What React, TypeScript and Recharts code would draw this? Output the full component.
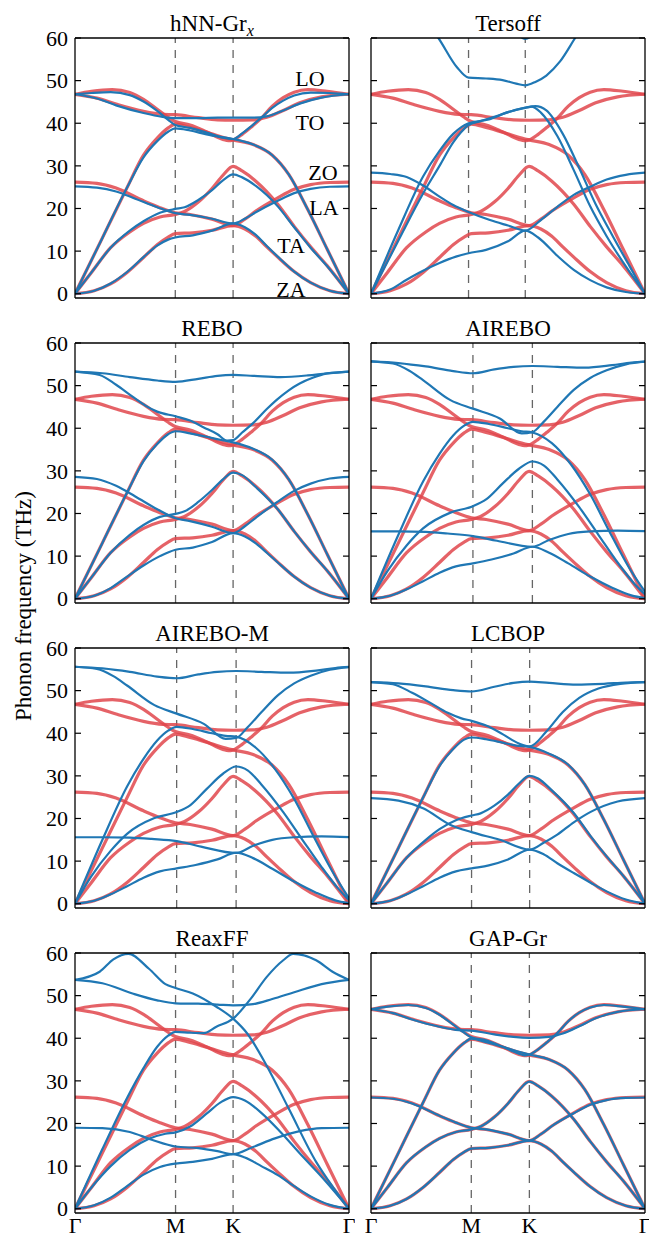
import React from 'react';
import { LineChart, Line, XAxis, YAxis, ReferenceLine } from 'recharts';

const RED = '#e0474c';
const BLUE = '#1f77b4';
const FONT = "'Liberation Serif', 'Times New Roman', Times, serif";

// path coordinate: 0 = Γ, 1 = Γ (red reference has M = 0.366, K = 0.577)
// bands are [x, frequency THz] pairs

// reference (red) bands
const refZA = [[0,0],[0.07,0.7],[0.13,2.3],[0.19,5.0],[0.25,8.5],[0.30,11.5],[0.34,13.3],[0.366,14.1],[0.43,14.3],[0.5,14.9],[0.577,16.0],[0.62,15.2],[0.66,13.5],[0.70,11.0],[0.74,8.6],[0.80,5.2],[0.86,2.6],[0.93,0.7],[1,0]];
const refTA = [[0,0],[0.06,5],[0.13,10.8],[0.2,14.5],[0.25,16.5],[0.31,18.0],[0.366,18.6],[0.40,19.3],[0.45,21.5],[0.5,24.7],[0.54,27.8],[0.577,29.9],[0.61,28.8],[0.66,26.4],[0.74,21.0],[0.80,15.8],[0.86,11.0],[0.92,6.6],[1,0]];
const refZO = [[0,26.2],[0.08,25.9],[0.15,24.8],[0.25,21.8],[0.31,20.2],[0.366,19.0],[0.42,18.6],[0.5,17.5],[0.577,16.0],[0.62,17.5],[0.66,19.4],[0.74,22.5],[0.80,24.5],[0.86,25.6],[0.93,26.1],[1,26.2]];
const refLA = [[0,0],[0.1,13.1],[0.19,24.9],[0.25,32.5],[0.3,36.5],[0.34,38.9],[0.366,39.8],[0.42,39.0],[0.48,37.9],[0.53,36.9],[0.577,36.1],[0.65,35.0],[0.72,32.5],[0.78,28.0],[0.85,19.7],[0.92,10.5],[1,0]];
const refLO = [[0,46.8],[0.06,47.5],[0.136,47.9],[0.2,47.2],[0.25,45.6],[0.3,43.3],[0.34,41.4],[0.366,40.4],[0.42,39.6],[0.48,38.0],[0.54,36.2],[0.56,35.9],[0.577,36.1],[0.61,37.4],[0.645,39.2],[0.68,41.2],[0.72,44.0],[0.76,46.0],[0.80,47.3],[0.85,47.9],[0.92,47.5],[1,46.8]];
const refTO = [[0,46.8],[0.08,45.9],[0.15,44.5],[0.25,42.8],[0.32,42.1],[0.366,42.0],[0.45,41.3],[0.52,40.8],[0.577,40.7],[0.65,40.8],[0.70,41.4],[0.76,43.0],[0.82,44.8],[0.9,46.2],[1,46.8]];
const refBands = [refZA, refTA, refZO, refLA, refLO, refTO];

// potentials (blue)
const hnnBands = [
  [[0,0],[0.07,0.7],[0.13,2.4],[0.19,5.1],[0.25,8.6],[0.30,11.3],[0.34,12.7],[0.366,13.2],[0.43,13.7],[0.5,14.8],[0.577,16.5],[0.62,15.6],[0.66,13.8],[0.70,11.2],[0.74,8.7],[0.80,5.2],[0.86,2.6],[0.93,0.7],[1,0]],
  [[0,0],[0.06,5],[0.13,10.8],[0.2,14.8],[0.25,17.0],[0.31,19.0],[0.366,19.9],[0.40,20.3],[0.45,22.0],[0.5,24.3],[0.54,26.6],[0.577,28.0],[0.61,27.3],[0.66,25.3],[0.74,20.5],[0.80,15.6],[0.86,10.8],[0.92,6.5],[1,0]],
  [[0,25.2],[0.08,24.9],[0.15,24.0],[0.22,22.3],[0.3,20.3],[0.366,18.9],[0.42,18.5],[0.5,17.6],[0.577,16.5],[0.62,17.6],[0.66,19.1],[0.74,21.8],[0.80,23.6],[0.86,24.6],[0.93,25.1],[1,25.2]],
  [[0,0],[0.1,13.1],[0.19,24.9],[0.25,32.0],[0.3,35.8],[0.34,38.0],[0.366,38.8],[0.42,38.3],[0.48,37.4],[0.53,36.8],[0.577,36.3],[0.65,35.0],[0.72,32.5],[0.78,28],[0.85,19.7],[0.92,10.5],[1,0]],
  [[0,46.8],[0.06,47.1],[0.13,47.3],[0.2,46.6],[0.25,45.1],[0.3,42.9],[0.34,40.8],[0.366,39.6],[0.42,38.9],[0.48,37.8],[0.54,36.6],[0.577,36.3],[0.61,37.6],[0.645,39.4],[0.68,41.3],[0.72,43.6],[0.76,45.3],[0.80,46.5],[0.86,47.2],[0.93,47.1],[1,46.8]],
  [[0,46.8],[0.08,45.8],[0.15,44.2],[0.25,42.4],[0.32,41.5],[0.366,41.2],[0.45,41.2],[0.52,41.3],[0.577,41.3],[0.65,41.3],[0.70,41.6],[0.76,43.0],[0.82,44.6],[0.9,46.0],[1,46.8]],
];

const tersoffBands = [
  [[0,0],[0.07,1.0],[0.13,3.3],[0.19,5.4],[0.25,7.2],[0.31,8.7],[0.356,9.5],[0.42,10.3],[0.5,12.3],[0.563,14.8],[0.61,13.2],[0.68,8.9],[0.74,5.6],[0.80,3.2],[0.86,1.5],[0.93,0.4],[1,0]],
  [[0,0],[0.1,12.5],[0.19,23.5],[0.25,30],[0.30,35.5],[0.33,38.0],[0.356,39.6],[0.40,40.5],[0.45,41.5],[0.52,43.0],[0.563,43.7],[0.585,43.9],[0.62,42.5],[0.68,37.0],[0.74,29.0],[0.80,20.5],[0.86,13.5],[0.93,6.4],[1,0]],
  [[0,28.4],[0.07,28.1],[0.13,27.4],[0.19,25.4],[0.25,22.8],[0.30,20.8],[0.356,19.2],[0.434,17.3],[0.5,16.0],[0.563,14.8],[0.62,17.3],[0.68,20.4],[0.74,23.2],[0.80,25.1],[0.86,26.8],[0.93,27.9],[1,28.4]],
  [[0,0],[0.1,15],[0.19,27.5],[0.25,33.5],[0.30,37.5],[0.356,40.0],[0.43,40.9],[0.5,42.6],[0.563,43.6],[0.6,44.0],[0.64,43.0],[0.70,37.5],[0.76,29.5],[0.82,21.0],[0.88,13.8],[0.94,6.9],[1,0]],
  [[0,76],[0.1,73],[0.2,64],[0.246,60],[0.313,53.2],[0.356,50.7],[0.42,50.5],[0.48,50.1],[0.53,49.3],[0.563,48.9],[0.60,49.7],[0.64,51.2],[0.69,54.5],[0.745,60],[0.8,65.5],[0.9,73],[1,76]],
  [[0,78],[0.356,68],[0.50,63],[0.563,59.8],[0.63,63],[0.8,71],[1,78]],
];

const reboBands = [
  [[0,0],[0.07,0.7],[0.13,2.5],[0.19,5.2],[0.25,7.8],[0.31,10.0],[0.367,11.5],[0.43,12.0],[0.5,13.3],[0.577,15.4],[0.62,14.6],[0.66,13.0],[0.70,10.8],[0.74,8.5],[0.80,5.2],[0.86,2.6],[0.93,0.7],[1,0]],
  [[0,0],[0.06,5],[0.13,10.8],[0.2,15],[0.25,17.3],[0.31,19.2],[0.367,19.9],[0.40,20.5],[0.45,22.7],[0.5,25.5],[0.54,28.0],[0.577,29.6],[0.61,29.0],[0.66,26.2],[0.74,21.0],[0.80,15.8],[0.86,11.0],[0.92,6.6],[1,0]],
  [[0,28.6],[0.08,28.1],[0.15,26.5],[0.22,24.0],[0.3,21.0],[0.367,18.9],[0.42,18.2],[0.5,16.9],[0.577,15.4],[0.62,17.0],[0.66,19.0],[0.74,22.8],[0.80,25.3],[0.86,27.0],[0.93,28.2],[1,28.6]],
  [[0,0],[0.1,13.1],[0.19,24.9],[0.25,32.3],[0.3,36.3],[0.34,38.6],[0.367,39.3],[0.42,38.8],[0.48,38.0],[0.53,37.3],[0.577,36.7],[0.65,35.2],[0.72,32.6],[0.78,28],[0.85,19.7],[0.92,10.5],[1,0]],
  [[0,53.3],[0.09,52.5],[0.15,50.2],[0.21,47.4],[0.26,45.2],[0.30,43.9],[0.367,42.8],[0.42,41.8],[0.47,40.2],[0.52,38.6],[0.555,37.1],[0.577,37.2],[0.61,39.0],[0.65,41.2],[0.70,44.5],[0.735,46.6],[0.78,48.9],[0.82,50.5],[0.87,51.9],[0.917,52.8],[1,53.3]],
  [[0,53.3],[0.1,52.9],[0.2,52.0],[0.3,51.2],[0.367,50.9],[0.45,51.6],[0.52,52.3],[0.577,52.5],[0.65,52.3],[0.75,52.0],[0.85,52.4],[0.92,52.9],[1,53.3]],
];

const aireboBands = [
  [[0,0],[0.07,0.7],[0.13,2.2],[0.19,4.1],[0.25,6.1],[0.31,7.6],[0.372,8.3],[0.44,9.2],[0.52,10.6],[0.589,12.2],[0.65,10.8],[0.72,8.3],[0.80,5.2],[0.88,2.6],[0.95,0.8],[1.018,0]],
  [[0,0],[0.06,6.5],[0.13,12.5],[0.19,16.5],[0.29,20.2],[0.372,21.7],[0.42,23.3],[0.48,27.0],[0.54,30.5],[0.589,32.2],[0.63,31.3],[0.68,28.0],[0.76,21.5],[0.83,15],[0.90,8.5],[0.96,3.6],[1.018,0]],
  [[0,15.8],[0.1,15.8],[0.2,15.7],[0.28,15.3],[0.372,14.7],[0.46,13.6],[0.589,12.2],[0.65,13.8],[0.72,15.2],[0.80,15.8],[0.9,16.0],[1.018,15.8]],
  [[0,0],[0.1,15],[0.19,27.5],[0.25,34],[0.3,38.3],[0.34,40.6],[0.372,41.5],[0.43,41.0],[0.5,40.0],[0.55,39.3],[0.589,39.0],[0.66,36.5],[0.73,31.5],[0.80,24.5],[0.87,15.8],[0.94,7.5],[1.018,0]],
  [[0,55.7],[0.08,55.2],[0.14,53.5],[0.19,51.3],[0.29,46.6],[0.372,44.6],[0.47,42.3],[0.55,38.8],[0.589,39.1],[0.63,41.5],[0.68,45.0],[0.74,49.0],[0.80,51.8],[0.86,53.6],[0.93,55.0],[1.018,55.7]],
  [[0,55.7],[0.1,55.3],[0.2,54.5],[0.3,53.4],[0.372,52.9],[0.45,53.8],[0.52,54.4],[0.589,54.6],[0.68,54.4],[0.78,54.2],[0.88,54.8],[0.95,55.4],[1.018,55.7]],
];

const airebomBands = [
  [[0,0],[0.07,0.7],[0.13,2.2],[0.19,4.1],[0.25,6.1],[0.31,7.6],[0.371,8.3],[0.44,9.1],[0.52,10.4],[0.588,12.0],[0.65,10.7],[0.72,8.2],[0.80,5.2],[0.88,2.6],[0.95,0.8],[1.013,0]],
  [[0,0],[0.06,6.5],[0.13,12.4],[0.19,16.4],[0.29,20.1],[0.371,21.5],[0.42,23.1],[0.48,26.9],[0.54,30.5],[0.588,32.2],[0.63,31.3],[0.68,28.0],[0.76,21.5],[0.83,15],[0.90,8.6],[0.96,3.6],[1.013,0]],
  [[0,15.6],[0.1,15.6],[0.2,15.5],[0.28,15.2],[0.371,14.7],[0.46,13.4],[0.588,11.9],[0.65,13.6],[0.72,15.0],[0.80,15.6],[0.9,15.8],[1.013,15.6]],
  [[0,0],[0.1,15],[0.19,27.5],[0.25,34],[0.3,38.3],[0.34,40.6],[0.371,41.5],[0.43,41.0],[0.5,40.0],[0.55,39.4],[0.588,39.2],[0.66,36.6],[0.73,31.6],[0.80,24.6],[0.87,15.9],[0.94,7.5],[1.013,0]],
  [[0,55.6],[0.08,55.1],[0.14,53.4],[0.19,51.2],[0.29,46.6],[0.371,44.6],[0.47,42.2],[0.55,38.7],[0.588,38.9],[0.63,41.4],[0.68,44.9],[0.74,48.9],[0.80,51.7],[0.86,53.5],[0.93,54.9],[1.013,55.6]],
  [[0,55.6],[0.1,55.2],[0.2,54.4],[0.3,53.3],[0.371,52.9],[0.45,53.8],[0.52,54.4],[0.588,54.6],[0.68,54.4],[0.78,54.2],[0.88,54.7],[0.95,55.3],[1.013,55.6]],
];

const lcbopBands = [
  [[0,0],[0.07,0.7],[0.13,2.2],[0.19,4.1],[0.25,6.1],[0.31,7.6],[0.367,8.3],[0.43,9.0],[0.5,10.4],[0.579,12.7],[0.63,11.6],[0.68,9.5],[0.74,7.2],[0.80,5.0],[0.86,2.9],[0.93,1.0],[1,0]],
  [[0,0],[0.06,5],[0.13,10.8],[0.2,15],[0.25,17.5],[0.31,19.6],[0.367,20.7],[0.40,21.2],[0.45,23.0],[0.5,25.6],[0.54,28.2],[0.579,30.0],[0.61,29.4],[0.66,26.6],[0.74,21.3],[0.80,16],[0.86,11.1],[0.92,6.6],[1,0]],
  [[0,24.8],[0.1,24.2],[0.19,22.4],[0.29,18.5],[0.367,16.8],[0.47,15.0],[0.579,12.7],[0.63,14.3],[0.68,16.2],[0.74,19.1],[0.80,21.5],[0.90,24.0],[1,24.8]],
  [[0,0],[0.1,13.1],[0.19,24.9],[0.25,32.3],[0.3,36.3],[0.34,38.5],[0.367,39.0],[0.42,38.6],[0.48,37.8],[0.53,37.1],[0.579,36.8],[0.65,35.2],[0.72,32.6],[0.78,28],[0.85,19.7],[0.92,10.5],[1,0]],
  [[0,52.0],[0.08,51.5],[0.15,49.5],[0.22,47.0],[0.28,44.8],[0.33,43.5],[0.367,42.9],[0.42,41.8],[0.48,39.8],[0.54,37.6],[0.579,36.9],[0.64,40.4],[0.70,45.0],[0.76,48.3],[0.83,50.5],[0.91,51.6],[1,52.0]],
  [[0,52.0],[0.1,51.7],[0.2,51.0],[0.3,50.1],[0.367,49.8],[0.45,50.9],[0.52,51.8],[0.579,52.1],[0.65,51.8],[0.75,51.4],[0.85,51.6],[0.93,51.9],[1,52.0]],
];

const reaxffBands = [
  [[0,0],[0.07,0.8],[0.13,2.6],[0.19,5.3],[0.25,8.0],[0.31,9.8],[0.367,10.6],[0.43,11.0],[0.5,11.7],[0.577,12.8],[0.62,12.0],[0.68,10.0],[0.74,7.9],[0.80,5.3],[0.86,2.9],[0.93,0.9],[1,0]],
  [[0,0],[0.06,5],[0.13,10],[0.2,13.8],[0.27,16.4],[0.33,17.6],[0.367,17.9],[0.42,19.3],[0.48,22.3],[0.53,24.9],[0.577,26.2],[0.62,25.4],[0.68,22.5],[0.75,18.0],[0.82,13.0],[0.9,7.5],[1,0]],
  [[0,19.0],[0.1,18.9],[0.2,18.0],[0.28,16.2],[0.367,14.6],[0.45,14.2],[0.52,13.5],[0.577,12.8],[0.65,14.5],[0.73,16.5],[0.82,18.2],[0.9,18.9],[1,19.0]],
  [[0,0],[0.1,14],[0.19,26],[0.25,33],[0.3,38],[0.34,40.6],[0.367,41.5],[0.42,41.3],[0.47,41.2],[0.516,42.7],[0.577,44.6],[0.638,49.0],[0.70,54.4],[0.76,58.3],[0.796,59.8],[0.88,58.3],[0.94,55.6],[1,53.7]],
  [[0,53.7],[0.09,55.6],[0.14,58.5],[0.195,59.8],[0.27,56.3],[0.33,52.7],[0.367,51.8],[0.43,50.5],[0.516,47.4],[0.577,44.6],[0.63,41.0],[0.70,33.5],[0.78,23.5],[0.88,11],[0.94,5.2],[1,0]],
  [[0,53.7],[0.1,52.9],[0.21,50.5],[0.3,48.9],[0.367,48.2],[0.45,48.1],[0.52,47.9],[0.577,47.7],[0.65,48.0],[0.72,49.2],[0.8,50.8],[0.9,52.7],[1,53.7]],
];

const gapBands = [
  [[0,0],[0.07,0.7],[0.13,2.3],[0.19,5.0],[0.25,8.5],[0.30,11.5],[0.34,13.3],[0.366,14.1],[0.43,14.3],[0.5,14.9],[0.578,16.0],[0.62,15.2],[0.66,13.5],[0.70,11.0],[0.74,8.6],[0.80,5.2],[0.86,2.6],[0.93,0.7],[1,0]],
  [[0,0],[0.06,5],[0.13,10.8],[0.2,14.5],[0.25,16.5],[0.31,18.0],[0.366,18.6],[0.40,19.3],[0.45,21.5],[0.5,24.7],[0.54,27.8],[0.578,29.8],[0.61,28.8],[0.66,26.4],[0.74,21.0],[0.80,15.8],[0.86,11.0],[0.92,6.6],[1,0]],
  [[0,26.1],[0.08,25.8],[0.15,24.7],[0.25,21.8],[0.31,20.2],[0.366,19.0],[0.42,18.6],[0.5,17.5],[0.578,16.0],[0.62,17.5],[0.66,19.4],[0.74,22.4],[0.80,24.4],[0.86,25.5],[0.93,26.0],[1,26.1]],
  [[0,0],[0.1,13.1],[0.19,24.9],[0.25,32.5],[0.3,36.5],[0.34,38.9],[0.366,39.9],[0.42,39.1],[0.48,38.0],[0.53,37.0],[0.578,36.2],[0.65,35.0],[0.72,32.5],[0.78,28.0],[0.85,19.7],[0.92,10.5],[1,0]],
  [[0,46.8],[0.06,47.4],[0.136,47.8],[0.2,47.1],[0.25,45.5],[0.3,43.2],[0.34,41.3],[0.366,40.2],[0.42,39.5],[0.48,38.0],[0.54,36.4],[0.56,36.0],[0.578,36.2],[0.61,37.4],[0.645,39.2],[0.68,41.2],[0.72,44.0],[0.76,46.0],[0.80,47.2],[0.85,47.8],[0.92,47.4],[1,46.8]],
  [[0,46.8],[0.08,45.9],[0.15,44.4],[0.25,42.7],[0.32,41.9],[0.366,41.8],[0.45,40.9],[0.52,40.3],[0.578,40.1],[0.65,40.3],[0.70,41.1],[0.76,42.8],[0.82,44.7],[0.9,46.2],[1,46.8]],
];

const Y_TICKS = [0, 10, 20, 30, 40, 50, 60];

// m, k = positions of the M and K points for each potential's own path
const panels = [
  { title: 'hNN-Gr', sub: 'x', bands: hnnBands, m: 0.366, k: 0.577 },
  { title: 'Tersoff', bands: tersoffBands, m: 0.356, k: 0.563 },
  { title: 'REBO', bands: reboBands, m: 0.367, k: 0.577 },
  { title: 'AIREBO', bands: aireboBands, m: 0.372, k: 0.589 },
  { title: 'AIREBO-M', bands: airebomBands, m: 0.371, k: 0.588 },
  { title: 'LCBOP', bands: lcbopBands, m: 0.367, k: 0.579 },
  { title: 'ReaxFF', bands: reaxffBands, m: 0.367, k: 0.577 },
  { title: 'GAP-Gr', bands: gapBands, m: 0.366, k: 0.578 },
];

const bandLabels = [
  { t: 'LO', x: 310, y: 78 },
  { t: 'TO', x: 310, y: 122 },
  { t: 'ZO', x: 323, y: 172 },
  { t: 'LA', x: 324, y: 207 },
  { t: 'TA', x: 291, y: 245 },
  { t: 'ZA', x: 291, y: 289 },
];

// layout
const W = 274;
const H = 260;
const AX = 50;
const MT = 32;
const MR = 6;
const MB = 34;
const COL_X = [75, 371];
const ROW_Y = [37.5, 342.5, 647.5, 952.5];

const toPts = (b: number[][]) => b.map(([x, y]) => ({ x, y }));

const YTick = (props: any) => {
  const { y, payload, showLabel } = props;
  return (
    <g>
      <line x1={AX} x2={AX + 6} y1={y} y2={y} stroke="#000" strokeWidth={1.2} />
      <line x1={AX + W - 6} x2={AX + W} y1={y} y2={y} stroke="#000" strokeWidth={1.2} />
      {showLabel && (
        <text x={AX - 7} y={y} dy="0.35em" textAnchor="end" fontSize={22} fontFamily={FONT} fill="#000">
          {payload.value}
        </text>
      )}
    </g>
  );
};

const XTick = (props: any) => {
  const { x, payload, m } = props;
  const v = payload.value;
  const lab = v === 0 || v === 1 ? 'Γ' : v === m ? 'M' : 'K';
  return (
    <text x={x} y={MT + H + 20} textAnchor="middle" fontSize={22} fontFamily={FONT} fill="#000">
      {lab}
    </text>
  );
};

function Panel({ cfg, row, col }: any) {
  const fl = COL_X[col];
  const ft = ROW_Y[row];
  const bottomRow = row === 3;
  const frame = { stroke: '#000', strokeWidth: 1.3 };
  return (
    <div style={{ position: 'absolute', left: fl - AX, top: ft - MT }}>
      <LineChart width={AX + W + MR} height={MT + H + MB} margin={{ top: MT, right: MR, bottom: 0, left: 0 }}>
        <XAxis
          dataKey="x"
          type="number"
          domain={[0, 1]}
          allowDataOverflow
          ticks={[0, cfg.m, cfg.k, 1]}
          interval={0}
          height={MB}
          tickLine={false}
          axisLine={frame}
          tick={bottomRow ? (p: any) => <XTick {...p} m={cfg.m} /> : false}
        />
        <YAxis
          type="number"
          domain={[-1, 60]}
          allowDataOverflow
          ticks={Y_TICKS}
          interval={0}
          width={AX}
          tickLine={false}
          axisLine={frame}
          tick={(p: any) => <YTick {...p} showLabel={col === 0} />}
        />
        <ReferenceLine x={cfg.m} stroke="#666" strokeWidth={1.3} strokeDasharray="8 7" />
        <ReferenceLine x={cfg.k} stroke="#666" strokeWidth={1.3} strokeDasharray="8 7" />
        {refBands.map((b, i) => (
          <Line
            key={'r' + i}
            data={toPts(b)}
            dataKey="y"
            type="monotone"
            stroke={RED}
            strokeOpacity={0.85}
            strokeWidth={3.2}
            dot={false}
            activeDot={false}
            isAnimationActive={false}
          />
        ))}
        {cfg.bands.map((b: number[][], i: number) => (
          <Line
            key={'b' + i}
            data={toPts(b)}
            dataKey="y"
            type="monotone"
            stroke={BLUE}
            strokeWidth={2.2}
            dot={false}
            activeDot={false}
            isAnimationActive={false}
          />
        ))}
        <ReferenceLine y={60} stroke="#000" strokeWidth={1.3} />
        <ReferenceLine x={1} stroke="#000" strokeWidth={1.3} />
      </LineChart>
    </div>
  );
}

export default function App() {
  return (
    <div style={{ position: 'absolute', left: 0, top: 0, width: 649, height: 1236, background: '#fff', overflow: 'hidden' }}>
      {panels.map((p, i) => (
        <Panel key={p.title} cfg={p} row={Math.floor(i / 2)} col={i % 2} />
      ))}
      <svg width={649} height={1236} style={{ position: 'absolute', left: 0, top: 0, pointerEvents: 'none' }}>
        {panels.map((p, i) => {
          const cx = COL_X[i % 2] + W / 2;
          const by = ROW_Y[Math.floor(i / 2)] - 7;
          return (
            <text key={p.title} x={cx} y={by} textAnchor="middle" fontSize={23} fontFamily={FONT} fill="#000">
              {p.title}
              {p.sub && (
                <tspan fontStyle="italic" fontSize={16} dy={5}>
                  {p.sub}
                </tspan>
              )}
            </text>
          );
        })}
        {bandLabels.map((l) => (
          <text key={l.t} x={l.x} y={l.y} dy="0.35em" textAnchor="middle" fontSize={22} fontFamily={FONT} fill="#000">
            {l.t}
          </text>
        ))}
        <text
          x={23}
          y={606}
          dy="0.35em"
          transform="rotate(-90, 23, 606)"
          textAnchor="middle"
          fontSize={23}
          fontFamily={FONT}
          fill="#000"
        >
          Phonon frequency (THz)
        </text>
      </svg>
    </div>
  );
}
